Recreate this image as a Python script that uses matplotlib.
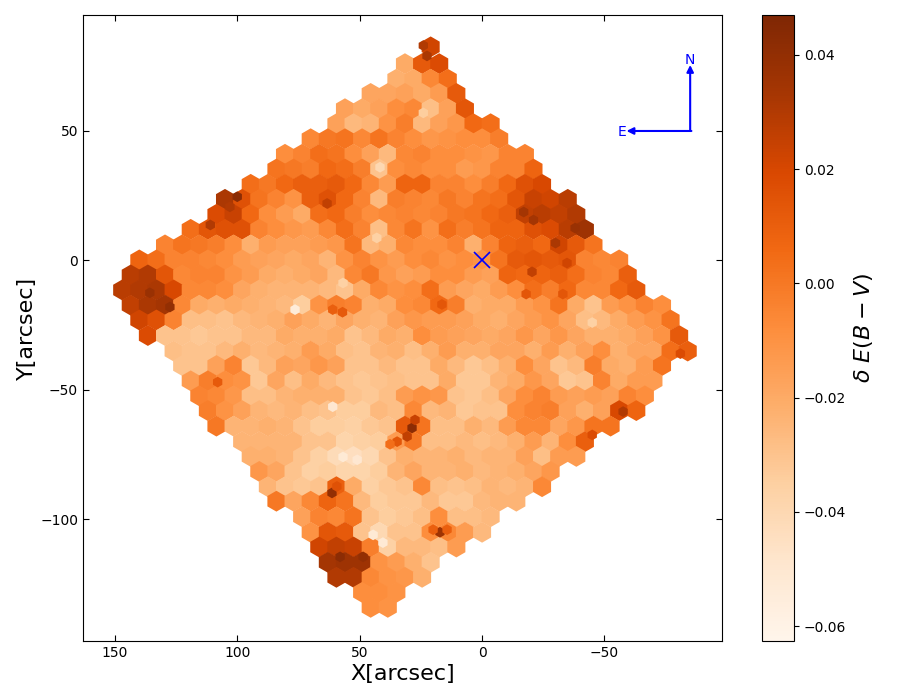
import matplotlib
matplotlib.use('Agg')
import matplotlib.pyplot as plt
import numpy as np

# delta E(B-V) per spaxel bin, in units of 0.001, one list per row from north to south
row_y = [82.5, 76, 70, 64.5, 58.6, 52.8, 47, 41, 35.3, 29.4, 23.6, 17.8, 12, 6, 0.2, -5.6, -11.4, -17.3, -23, -29,
         -35, -40.6, -46.5, -52.3, -58, -64, -70, -75.7, -81.5, -87.4, -93, -99, -105, -110.7, -116.6, -122.4, -128.2, -134]
row_x0 = [21, 31.5, 35, 45.5, 56, 59.5, 70, 80.5, 84, 94.5, 105, 108.5, 119, 129.5, 140, 143.5, 147, 143.5, 140, 136.5,
          126, 122.5, 119, 115.5, 112, 108.5, 98, 94.5, 91, 87.5, 84, 73.5, 70, 66.5, 63, 59.5, 49, 45.5]
row_values = [
    [22],
    [-20, 12, 18],
    [-22, -20, -6, 4],
    [-18, -18, -16, -20, -14, 12],
    [-16, -20, -16, -8, -6, -28, -16, 14],
    [-16, -26, -24, -10, -2, -26, -16, -12, 6, 4],
    [-6, 0, 2, -6, 2, -4, -8, -12, -10, -8, -8, -2],
    [-8, -4, 4, 2, -8, -16, -26, -6, -4, -8, -8, -10, -12, -4, -4],
    [2, 0, -2, 6, 4, -2, -30, -8, -6, -8, -8, -14, -12, -4, -4, 8],
    [4, 0, 6, 10, 10, 12, 6, -6, -14, 8, 8, -4, -4, -8, -2, 6, 16, 20],
    [32, 16, 2, -4, -10, 10, 16, 6, -4, -26, -2, -4, -6, 0, -4, 2, 4, 14, 24, 22, 28],
    [18, 24, 6, -8, -14, -20, 4, 6, -2, -8, -6, -4, -6, -4, 0, 2, 6, 10, 26, 28, 26, 30],
    [4, 14, 16, 16, -4, -8, -12, -14, -6, 4, -4, -28, -6, 2, -10, 4, -2, 2, 8, 8, 16, 18, 28, 36],
    [-4, 2, 0, -2, -8, -22, -14, -16, -16, -14, -12, 2, -26, -22, -6, -8, -8, -4, -22, -4, 8, 10, 6, 22, 12, 2],
    [8, 4, -4, -4, -6, -8, -14, -16, -18, -20, -18, -24, -10, -4, -10, -14, -8, -6, -10, -8, -10, 2, 12, 14, 12, 14, -4, -6, -4],
    [28, 30, 14, -6, -4, -4, -10, -14, -20, -22, -20, -18, -26, -6, 0, -12, -16, -14, -8, -8, -14, -16, 8, 6, 8, 10, 4, -4, -6, 10],
    [28, 30, 32, 20, -6, -6, -8, -18, -22, -24, -24, -24, -26, -30, -20, -6, -10, -8, 4, -14, -18, -20, -14, -8, 4, -2, 6, -6, -6, 6, 12],
    [26, 32, 34, -6, -20, -22, -20, -22, -24, -26, -34, -10, -2, -4, -22, -20, -8, -6, 6, -2, -22, -20, -20, -14, -10, 2, -20, -30, -14, -10, -4, -8],
    [22, 16, -4, -28, -28, -30, -26, -24, -22, -16, -20, -24, -18, -22, -24, -16, -12, -14, -14, -16, -20, -22, -18, -14, -10, -18, -28, -26, -20, -14, -10, 2],
    [18, -30, -30, -32, -30, -30, -26, -26, -20, -22, -22, -20, -30, -26, -20, -22, -8, -14, -16, -18, -20, -18, -12, -18, -12, -18, -22, -22, -20, -16, -10, 12],
    [-28, -30, -30, -26, -22, -26, -24, -22, -14, -20, -28, -30, -24, -22, -28, -22, -14, -22, -22, -18, -18, -22, -14, -22, -16, -8, -22, -18, -18, 4, 10],
    [-30, -30, -16, -4, -32, -26, -16, -18, -12, -16, -30, -30, -26, -30, -30, -20, -26, -32, -28, -22, -8, -18, -30, -26, -2, -20, -22, -14, 2],
    [-14, -2, -8, -10, -32, -18, -28, -20, -26, -30, -32, -30, -28, -30, -30, -20, -32, -32, -24, -20, -12, -18, -32, -30, -4, -20, -14, -14],
    [-4, -6, -12, -28, -28, -24, -22, -22, -22, -30, -32, -28, -14, -10, -12, -30, -32, -28, -18, -8, -4, -14, -16, -14, -16, -4, -8],
    [-2, -10, -16, -24, -26, -24, -28, -30, -34, -34, -26, -28, -6, -26, -24, -32, -30, -30, -8, -4, -2, -16, -22, -16, 20, 8],
    [0, -24, -24, -22, -24, -30, -34, -34, -36, -32, -30, 12, 2, -28, -28, -22, -26, -14, -6, -6, -18, -12, 2, 2],
    [-24, -24, -24, -24, -30, -30, -38, -36, -34, -14, 0, -28, -28, -26, -28, -26, -22, -14, -24, -8, 10],
    [-22, -22, -24, -30, -36, -42, -44, -40, -30, -22, -24, -24, -22, -26, -24, -24, -16, -28, -14, -14],
    [-12, -18, -30, -36, -34, -38, -38, -34, -24, -18, -24, -24, -22, -26, -24, -22, -18, -12],
    [-24, -30, -32, -30, 10, -20, -36, -32, -30, -6, -28, -30, -28, -24, -26, -24, -6],
    [0, -18, -6, 8, 2, -26, -34, -32, -32, -26, -32, -32, -26, -24, -24],
    [-16, -4, -6, 2, -30, -34, -32, -28, -8, -28, -28, -26],
    [-10, 14, 12, -30, -40, -30, -30, -8, -6, -14, -26],
    [22, 26, 24, -2, -36, -26, -26, -28, -14],
    [34, 36, 36, -10, -14, -22, -30],
    [30, 30, -6, -10, -12, -22],
    [-8, -8, -10],
    [-8, -10],
]
x_spacing = 7

# small bins on top: the sharp dark knots and pale holes
spot_x = [28.6, 30.6, 27.4, 34.7, 37.6, 61.3, 59.3, 17.2, 20, 14.3, 40.5, 44.5, 56.8, 51, 61, 76.4, 56.8, 41.7,
          24, 43, 100, 103, 63.3, 111, 61, 57, -17, 24, 22.5, -38, -21, -30, -20.4, -34.7, 16.4, -18, -33, -45,
          -81, 58, 48.6, 135.7, 127.5, 108, -57.6, -45]
spot_y = [-64.7, -68, -61.6, -70, -71, -89.8, -87.3, -105, -104, -104, -109, -106, -75.9, -77, -56.5, -19, -8.7, 36,
          57, 8.7, 24.6, 20.7, 22, 13.7, -19, -20, 18.7, 83, 79, 12.5, 15.6, 6.7, -4.4, -1, -17, -13, -13, -24,
          -36, -114.5, -114.5, -12.5, -18, -47, -58.4, -67.4]
spot_values = [42, 26, 24, 14, 4, 40, 16, 36, 10, 10, -52, -52, -52, -50, -50, -54, -36, -40,
               -34, -36, 42, 30, 26, 30, 10, 12, 34, 30, 32, 38, 34, 32, 26, 22, 14, 14, 14, -36,
               18, 42, 40, 38, 40, 12, 30, 18]

cb_ticks = [-0.06, -0.04, -0.02, 0.0, 0.02, 0.04]

x_bins, y_bins, dust = [], [], []
for y0, x0, vals in zip(row_y, row_x0, row_values):
    for k, v in enumerate(vals):
        x_bins.append(x0 - k * x_spacing)
        y_bins.append(y0)
        dust.append(v / 1000)

fig = plt.figure(figsize=(9, 7), dpi=100)
ax = fig.add_axes([83 / 900, 59 / 700, 639 / 900, 626 / 700])
cax = fig.add_axes([762 / 900, 59 / 700, 32 / 900, 626 / 700])

sc = ax.scatter(x_bins, y_bins, c=dust, marker='h', s=225, linewidths=0,
                cmap='Oranges', vmin=-0.0626, vmax=0.047)
ax.scatter(spot_x, spot_y, c=np.array(spot_values) / 1000, marker='h', s=60, linewidths=0,
           cmap='Oranges', vmin=-0.0626, vmax=0.047)

ax.plot(0, 0, marker='x', color='blue', ms=11, mew=1.2, ls='none')

# compass
ax.annotate('', xy=(-85, 75.5), xytext=(-85, 50),
            arrowprops=dict(arrowstyle='-|>', color='blue', lw=1.5, shrinkA=0, shrinkB=0))
ax.annotate('', xy=(-59, 50), xytext=(-85.5, 50),
            arrowprops=dict(arrowstyle='-|>', color='blue', lw=1.5, shrinkA=0, shrinkB=0))
ax.text(-85, 77.5, 'N', color='blue', ha='center', va='center', fontsize=10)
ax.text(-57, 49.5, 'E', color='blue', ha='center', va='center', fontsize=10)

ax.set_xlim(163, -98)
ax.set_ylim(-147, 94.8)
ax.set_xticks([150, 100, 50, 0, -50])
ax.set_yticks([50, 0, -50, -100])
ax.tick_params(direction='in', top=True, right=True, length=4)
ax.set_xlabel('X[arcsec]', fontsize=16, labelpad=3)
ax.set_ylabel('Y[arcsec]', fontsize=16, labelpad=2)

cb = fig.colorbar(sc, cax=cax)
cb.set_ticks(cb_ticks)
cb.set_label(r'$\delta\ E(B-V)$', fontsize=16, labelpad=4)

fig.savefig('out.png', dpi=100)
